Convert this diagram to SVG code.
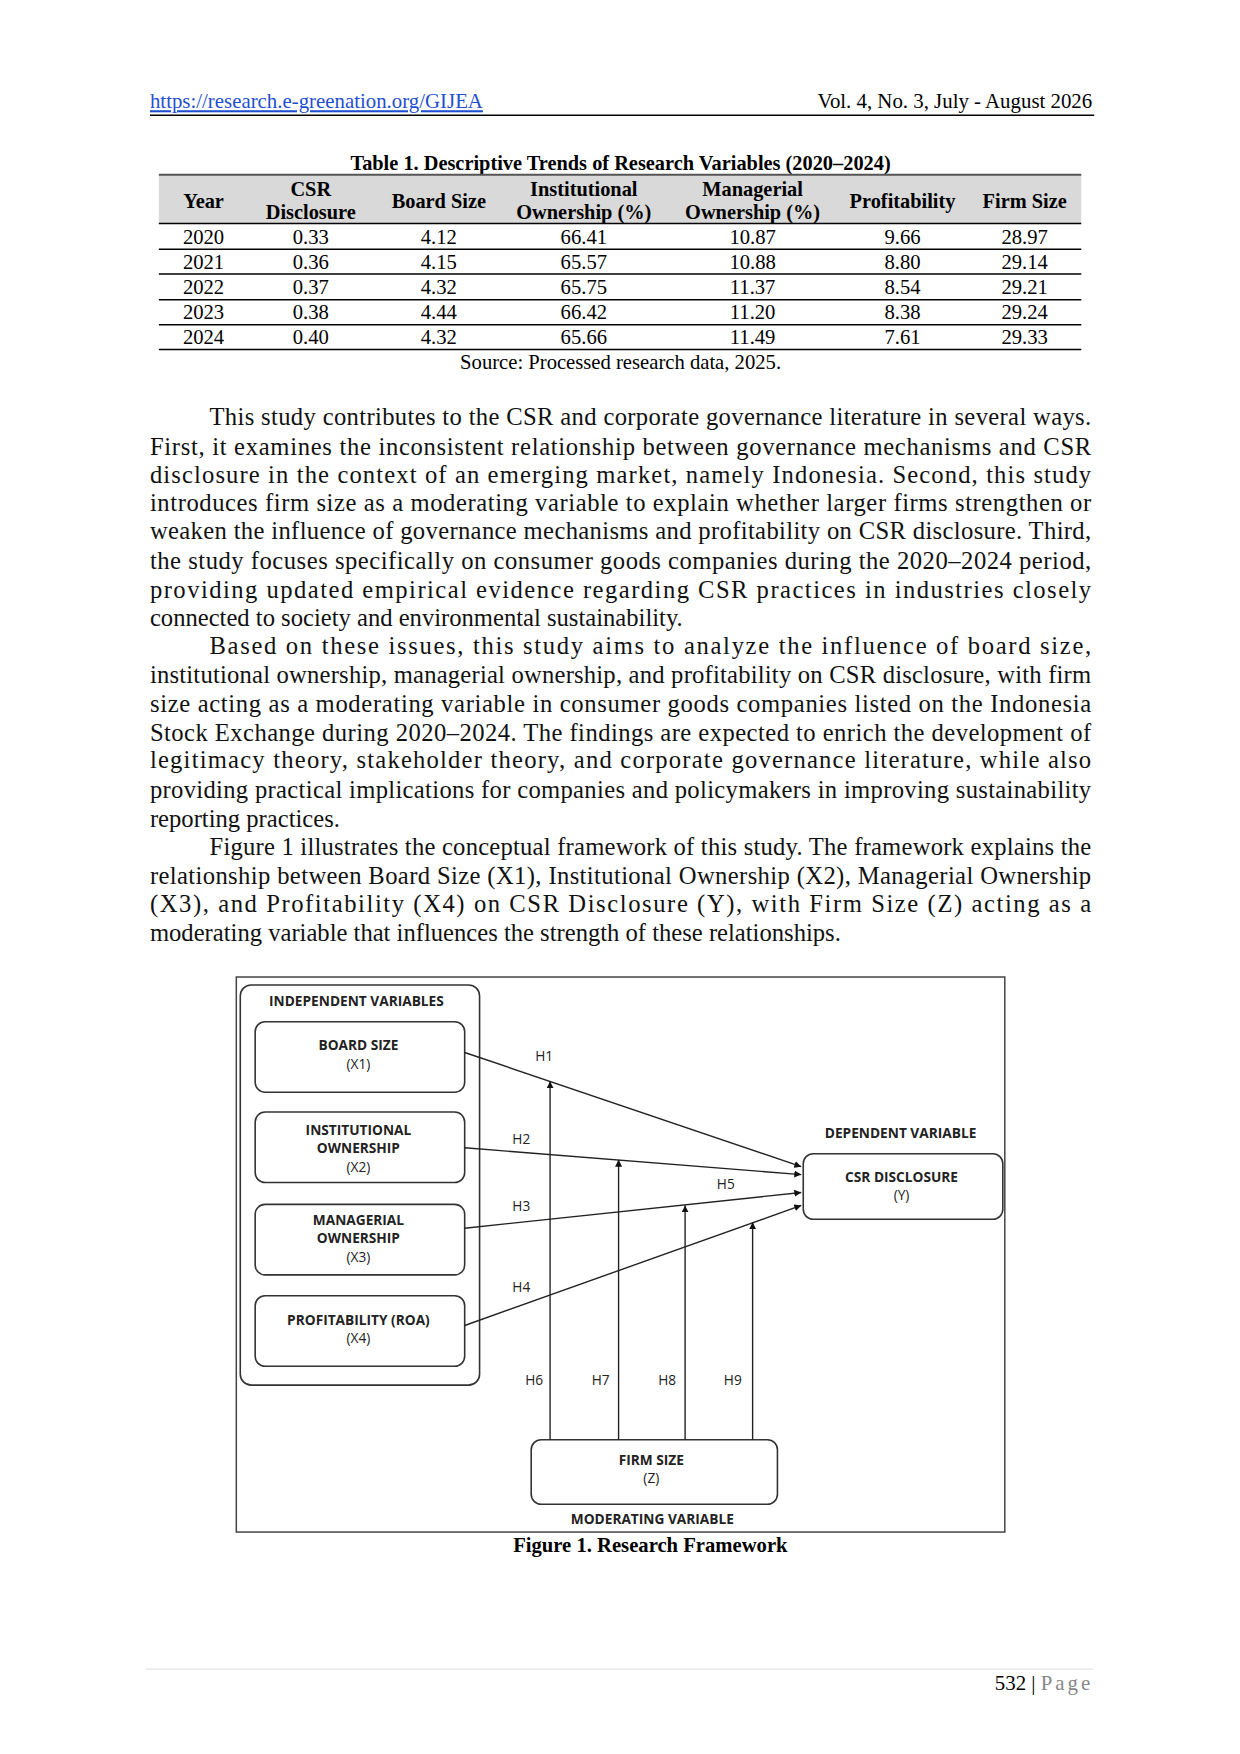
<svg xmlns="http://www.w3.org/2000/svg" width="1240" height="1754" viewBox="0 0 1240 1754">
<style>
.s{font-family:"Liberation Serif",serif;fill:#000}
.p{font-family:"Liberation Serif",serif;font-size:24.8px;fill:#111}
.th{font-family:"Liberation Serif",serif;font-size:20.5px;font-weight:bold;text-anchor:middle}
.td{font-family:"Liberation Serif",serif;font-size:20.8px;text-anchor:middle}
.d{font-family:"Open Sans","Liberation Sans",sans-serif;font-size:13.8px;font-weight:bold;fill:#222;text-anchor:middle}
.h{font-family:"Open Sans","Liberation Sans",sans-serif;font-size:13.8px;fill:#222;text-anchor:middle}
.box{fill:#fff;stroke:#333;stroke-width:1.6}
.c{stroke:#222;stroke-width:1.4;fill:none;marker-end:url(#ah)}
</style>
<defs>
<marker id="ah" viewBox="0 0 10 10" refX="10" refY="5" markerWidth="7" markerHeight="7" orient="auto" markerUnits="userSpaceOnUse"><path d="M0,0L10,5L0,10z" fill="#111"/></marker>
</defs>
<rect width="1240" height="1754" fill="#fff"/>
<g transform="scale(0.9929)">
<g id="header">
<text x="151" y="109" class="s" font-size="21" style="fill:#1f4fd0" text-decoration="underline">https://research.e-greenation.org/GIJEA</text>
<text x="1100" y="109" class="s" font-size="21" text-anchor="end">Vol. 4, No. 3, July - August 2026</text>
<line x1="151" y1="116" x2="1102" y2="116" stroke="#000" stroke-width="1.5"/>
</g>
<g id="table">
<text x="625" y="171" class="th" font-size="19.5">Table 1. Descriptive Trends of Research Variables (2020–2024)</text>
<rect x="160" y="176" width="929" height="49" fill="#d9d9d9"/>
<line x1="160" y1="176" x2="1089" y2="176" stroke="#555" stroke-width="2"/>
<g stroke="#000" stroke-width="1.5">
<line x1="160" y1="225" x2="1089" y2="225"/><line x1="160" y1="251" x2="1089" y2="251"/><line x1="160" y1="276" x2="1089" y2="276"/><line x1="160" y1="302" x2="1089" y2="302"/><line x1="160" y1="327" x2="1089" y2="327"/><line x1="160" y1="352" x2="1089" y2="352"/>
</g>
<text x="205" y="209" class="th">Year</text>
<text x="313" y="197" class="th">CSR</text><text x="313" y="221" class="th">Disclosure</text>
<text x="442" y="209" class="th">Board Size</text>
<text x="588" y="197" class="th">Institutional</text><text x="588" y="221" class="th">Ownership (%)</text>
<text x="758" y="197" class="th">Managerial</text><text x="758" y="221" class="th">Ownership (%)</text>
<text x="909" y="209" class="th">Profitability</text>
<text x="1032" y="209" class="th">Firm Size</text>
<text x="205" y="246" class="td">2020</text><text x="313" y="246" class="td">0.33</text><text x="442" y="246" class="td">4.12</text><text x="588" y="246" class="td">66.41</text><text x="758" y="246" class="td">10.87</text><text x="909" y="246" class="td">9.66</text><text x="1032" y="246" class="td">28.97</text>
<text x="205" y="271" class="td">2021</text><text x="313" y="271" class="td">0.36</text><text x="442" y="271" class="td">4.15</text><text x="588" y="271" class="td">65.57</text><text x="758" y="271" class="td">10.88</text><text x="909" y="271" class="td">8.80</text><text x="1032" y="271" class="td">29.14</text>
<text x="205" y="296" class="td">2022</text><text x="313" y="296" class="td">0.37</text><text x="442" y="296" class="td">4.32</text><text x="588" y="296" class="td">65.75</text><text x="758" y="296" class="td">11.37</text><text x="909" y="296" class="td">8.54</text><text x="1032" y="296" class="td">29.21</text>
<text x="205" y="321" class="td">2023</text><text x="313" y="321" class="td">0.38</text><text x="442" y="321" class="td">4.44</text><text x="588" y="321" class="td">66.42</text><text x="758" y="321" class="td">11.20</text><text x="909" y="321" class="td">8.38</text><text x="1032" y="321" class="td">29.24</text>
<text x="205" y="346" class="td">2024</text><text x="313" y="346" class="td">0.40</text><text x="442" y="346" class="td">4.32</text><text x="588" y="346" class="td">65.66</text><text x="758" y="346" class="td">11.49</text><text x="909" y="346" class="td">7.61</text><text x="1032" y="346" class="td">29.33</text>
<text x="625" y="372" class="td">Source: Processed research data, 2025.</text>
</g>
<g id="body">
<text x="211" y="428" class="p" textLength="888" lengthAdjust="spacing">This study contributes to the CSR and corporate governance literature in several ways.</text>
<text x="151" y="458" class="p" textLength="948" lengthAdjust="spacing">First, it examines the inconsistent relationship between governance mechanisms and CSR</text>
<text x="151" y="486" class="p" textLength="948" lengthAdjust="spacing">disclosure in the context of an emerging market, namely Indonesia. Second, this study</text>
<text x="151" y="515" class="p" textLength="948" lengthAdjust="spacing">introduces firm size as a moderating variable to explain whether larger firms strengthen or</text>
<text x="151" y="543" class="p" textLength="948" lengthAdjust="spacing">weaken the influence of governance mechanisms and profitability on CSR disclosure. Third,</text>
<text x="151" y="573" class="p" textLength="948" lengthAdjust="spacing">the study focuses specifically on consumer goods companies during the 2020–2024 period,</text>
<text x="151" y="602" class="p" textLength="948" lengthAdjust="spacing">providing updated empirical evidence regarding CSR practices in industries closely</text>
<text x="151" y="630" class="p">connected to society and environmental sustainability.</text>
<text x="211" y="659" class="p" textLength="888" lengthAdjust="spacing">Based on these issues, this study aims to analyze the influence of board size,</text>
<text x="151" y="688" class="p" textLength="948" lengthAdjust="spacing">institutional ownership, managerial ownership, and profitability on CSR disclosure, with firm</text>
<text x="151" y="717" class="p" textLength="948" lengthAdjust="spacing">size acting as a moderating variable in consumer goods companies listed on the Indonesia</text>
<text x="151" y="746" class="p" textLength="948" lengthAdjust="spacing">Stock Exchange during 2020–2024. The findings are expected to enrich the development of</text>
<text x="151" y="774" class="p" textLength="948" lengthAdjust="spacing">legitimacy theory, stakeholder theory, and corporate governance literature, while also</text>
<text x="151" y="804" class="p" textLength="948" lengthAdjust="spacing">providing practical implications for companies and policymakers in improving sustainability</text>
<text x="151" y="833" class="p">reporting practices.</text>
<text x="211" y="861" class="p" textLength="888" lengthAdjust="spacing">Figure 1 illustrates the conceptual framework of this study. The framework explains the</text>
<text x="151" y="890" class="p" textLength="948" lengthAdjust="spacing">relationship between Board Size (X1), Institutional Ownership (X2), Managerial Ownership</text>
<text x="151" y="919" class="p" textLength="948" lengthAdjust="spacing">(X3), and Profitability (X4) on CSR Disclosure (Y), with Firm Size (Z) acting as a</text>
<text x="151" y="948" class="p">moderating variable that influences the strength of these relationships.</text>
</g>
<g id="figure">
<rect x="238" y="984" width="774" height="559" fill="#fff" stroke="#444" stroke-width="1.5"/>
<g id="independent">
<rect x="242" y="992" width="241" height="403" rx="11" class="box"/>
<text x="359" y="1013" class="d">INDEPENDENT VARIABLES</text>
</g>
<g id="x1"><rect x="257" y="1029" width="211" height="71" rx="10" class="box"/>
<text x="361" y="1058" class="d">BOARD SIZE</text><text x="361" y="1077" class="h">(X1)</text></g>
<g id="x2"><rect x="257" y="1120" width="211" height="71" rx="10" class="box"/>
<text x="361" y="1143" class="d">INSTITUTIONAL</text><text x="361" y="1161" class="d">OWNERSHIP</text><text x="361" y="1180" class="h">(X2)</text></g>
<g id="x3"><rect x="257" y="1213" width="211" height="71" rx="10" class="box"/>
<text x="361" y="1234" class="d">MANAGERIAL</text><text x="361" y="1252" class="d">OWNERSHIP</text><text x="361" y="1271" class="h">(X3)</text></g>
<g id="x4"><rect x="257" y="1305" width="211" height="71" rx="10" class="box"/>
<text x="361" y="1334" class="d">PROFITABILITY (ROA)</text><text x="361" y="1353" class="h">(X4)</text></g>
<g id="y"><text x="907" y="1146" class="d">DEPENDENT VARIABLE</text>
<rect x="809" y="1162" width="201" height="66" rx="10" class="box"/>
<text x="908" y="1190" class="d">CSR DISCLOSURE</text><text x="908" y="1209" class="h">(Y)</text></g>
<g id="z"><rect x="535" y="1450" width="248" height="65" rx="10" class="box"/>
<text x="656" y="1475" class="d">FIRM SIZE</text><text x="656" y="1494" class="h">(Z)</text>
<text x="657" y="1535" class="d">MODERATING VARIABLE</text></g>
<g id="connectors">
<line x1="468" y1="1060" x2="807" y2="1175" class="c"/>
<line x1="468" y1="1156" x2="807" y2="1183" class="c"/>
<line x1="468" y1="1237" x2="807" y2="1201" class="c"/>
<line x1="468" y1="1335" x2="807" y2="1214" class="c"/>
<line x1="554" y1="1450" x2="554" y2="1089" class="c"/>
<line x1="623" y1="1450" x2="623" y2="1168" class="c"/>
<line x1="690" y1="1450" x2="690" y2="1214" class="c"/>
<line x1="758" y1="1450" x2="758" y2="1231" class="c"/>
<text x="548" y="1069" class="h">H1</text>
<text x="525" y="1152" class="h">H2</text>
<text x="525" y="1220" class="h">H3</text>
<text x="525" y="1301" class="h">H4</text>
<text x="731" y="1198" class="h">H5</text>
<text x="538" y="1395" class="h">H6</text>
<text x="605" y="1395" class="h">H7</text>
<text x="672" y="1395" class="h">H8</text>
<text x="738" y="1395" class="h">H9</text>
</g>
<text x="655" y="1563" class="s" font-size="20.8" font-weight="bold" text-anchor="middle">Figure 1. Research Framework</text>
</g>
<g id="footer">
<line x1="147" y1="1681" x2="1101" y2="1681" stroke="#ddd" stroke-width="1"/>
<text x="1101" y="1702" class="s" font-size="21" text-anchor="end">532 | <tspan fill="#888" letter-spacing="3">Page</tspan></text>
</g>
</g>
</svg>
